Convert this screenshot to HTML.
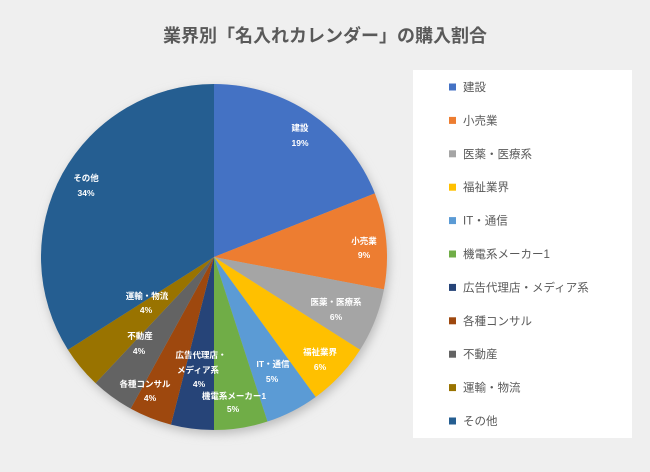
<!DOCTYPE html>
<html><head><meta charset="utf-8"><style>
body{margin:0;width:650px;height:472px;background:#efefef;overflow:hidden;font-family:"Liberation Sans","Noto Sans CJK JP",sans-serif}
</style></head><body>
<svg id="s" width="650" height="472" xmlns="http://www.w3.org/2000/svg" style="position:absolute;left:0;top:0">
<defs><filter id="sh" x="-20%" y="-20%" width="140%" height="140%"><feGaussianBlur stdDeviation="5"/></filter></defs>
<text x="325" y="42" text-anchor="middle" font-size="18" font-weight="bold" fill="#595959" font-family="Liberation Sans,Noto Sans CJK JP,sans-serif">業界別「名入れカレンダー」の購入割合</text>
<rect x="413" y="70" width="219" height="368" fill="#fff"/>
<circle cx="216" cy="261" r="173" fill="#bbb" filter="url(#sh)"/>
<g id="pie"></g>
<g id="lab" font-size="8.5" font-weight="bold" fill="#fff" text-anchor="middle" font-family="Liberation Sans,Noto Sans CJK JP,sans-serif">
<text x="300" y="131">建設</text><text x="300" y="146">19%</text>
<text x="364" y="244">小売業</text><text x="364" y="258">9%</text>
<text x="336" y="305">医薬・医療系</text><text x="336" y="320">6%</text>
<text x="320" y="355">福祉業界</text><text x="320" y="370">6%</text>
<text x="273" y="367">IT・通信</text><text x="272" y="382">5%</text>
<text x="234" y="399">機電系メーカー1</text><text x="233" y="412">5%</text>
<text x="201" y="358">広告代理店・</text><text x="198" y="373">メディア系</text><text x="199" y="387">4%</text>
<text x="145" y="387">各種コンサル</text><text x="150" y="401">4%</text>
<text x="140" y="339">不動産</text><text x="139" y="354">4%</text>
<text x="147" y="299">運輸・物流</text><text x="146" y="313">4%</text>
<text x="86" y="181">その他</text><text x="86" y="196">34%</text>
</g>
<g id="leg" font-size="11.5" fill="#595959" font-family="Liberation Sans,Noto Sans CJK JP,sans-serif"></g>
</svg>
<script>
var v=[19,9,6,6,5,5,4,4,4,4,34];
var c=["#4472C4","#ED7D31","#A5A5A5","#FFC000","#5B9BD5","#70AD47","#264478","#9E480E","#636363","#997300","#255E91"];
var n=["建設","小売業","医薬・医療系","福祉業界","IT・通信","機電系メーカー1","広告代理店・メディア系","各種コンサル","不動産","運輸・物流","その他"];
var cx=214,cy=257,r=173,a=0,p="",l="";
for(var i=0;i<v.length;i++){
 var a2=a+v[i]/100*2*Math.PI;
 var x1=cx+r*Math.sin(a),y1=cy-r*Math.cos(a),x2=cx+r*Math.sin(a2),y2=cy-r*Math.cos(a2);
 p+='<path d="M'+cx+','+cy+'L'+x1+','+y1+'A'+r+','+r+' 0 '+(a2-a>Math.PI?1:0)+' 1 '+x2+','+y2+'Z" fill="'+c[i]+'"/>';
 a=a2;
 var y=87+i*33.4;
 l+='<rect x="449" y="'+(y-3.5)+'" width="7" height="7" fill="'+c[i]+'"/><text x="463" y="'+(y+4)+'">'+n[i]+'</text>';
}
document.getElementById("pie").innerHTML=p;
document.getElementById("leg").innerHTML=l;
</script>
</body></html>
